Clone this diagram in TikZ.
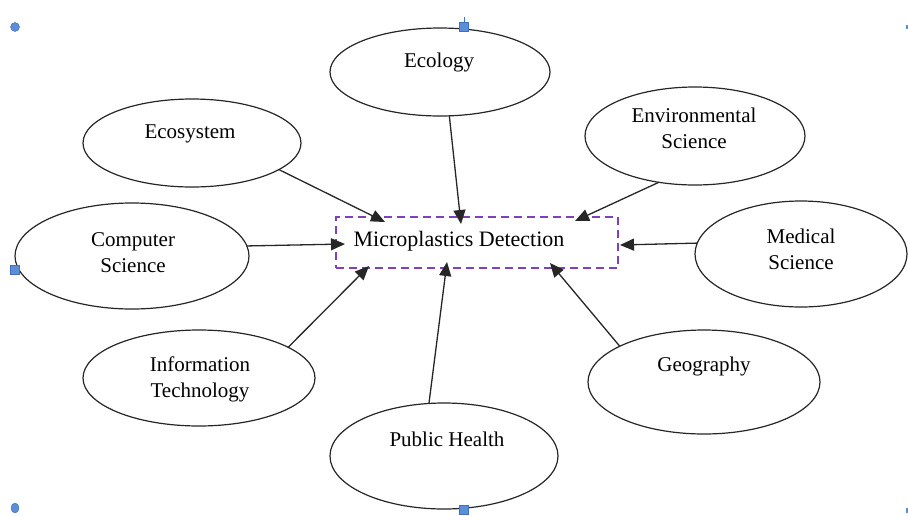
\documentclass[tikz,border=0pt]{standalone}
\usepackage{fontspec}
\setmainfont{Liberation Serif}
\usetikzlibrary{shapes.geometric,arrows.meta}
\definecolor{handle}{HTML}{5B8DD9}
\definecolor{handleb}{HTML}{3F6FBF}
\definecolor{boxpurple}{HTML}{7F3FBF}
\tikzset{
  oval/.style={draw=black!85, line width=1.2pt, ellipse, inner sep=0pt, outer sep=0pt},
  lbl/.style={align=center, font=\fontsize{21}{26}\selectfont, inner sep=0pt},
  conn/.style={draw=black!85, line width=1.3pt, -{Triangle[length=14pt,width=12pt]}},
  hsq/.style={fill=handle, draw=handleb, line width=0.4pt, minimum size=9pt, inner sep=0pt},
  hci/.style={fill=handle, draw=handleb, line width=0.4pt, circle, minimum size=9pt, inner sep=0pt}
}
\begin{document}
\begin{tikzpicture}[x=1pt,y=-1pt]
\useasboundingbox (0,0) rectangle (908,515);
\fill[white] (0,0) rectangle (908,515);

% central box
\node[draw=boxpurple, line width=1.5pt, dash pattern=on 8pt off 5pt, minimum width=282pt, minimum height=51pt, inner sep=0pt] (mpd) at (477,242.5) {};
\node[lbl, font=\fontsize{22}{26}\selectfont] (mpdt) at (459,241) {Microplastics Detection};

% ellipses
\node[oval, minimum width=220pt, minimum height=88pt] (eco) at (440,72) {};
\node[lbl] (ecot) at (439,62) {Ecology};
\node[oval, minimum width=218pt, minimum height=88pt] (esys) at (192,143) {};
\node[lbl] (esyst) at (190,134) {Ecosystem};
\node[oval, minimum width=220pt, minimum height=98pt] (env) at (695,136) {};
\node[lbl] (envt) at (694,128) {Environmental\\Science};
\node[oval, minimum width=234pt, minimum height=106pt] (cs) at (132,256) {};
\node[lbl] (cst) at (133,253) {Computer\\Science};
\node[oval, minimum width=212pt, minimum height=106pt] (med) at (801,254) {};
\node[lbl] (medt) at (801,249) {Medical\\Science};
\node[oval, minimum width=232pt, minimum height=96pt] (it) at (199,378) {};
\node[lbl] (itt) at (200,379) {Information\\Technology};
\node[oval, minimum width=228pt, minimum height=106pt] (ph) at (444,456) {};
\node[lbl] (pht) at (447,439) {Public Health};
\node[oval, minimum width=232pt, minimum height=104pt] (geo) at (704,382) {};
\node[lbl] (geot) at (704,366) {Geography};

% arrow end points on the box
\coordinate (eEsys) at (385,222);
\coordinate (eEco) at (461,224);
\coordinate (eEnv) at (575,221);
\coordinate (eCs) at (345,244);
\coordinate (eMed) at (620,245);
\coordinate (eIt) at (369,266);
\coordinate (ePh) at (447,262);
\coordinate (eGeo) at (550,263);

\draw[conn] (esys.-17.7) -- (eEsys);
\draw[conn] (eco.-78.7) -- (eEco);
\draw[conn] (env.-128.5) -- (eEnv);
\draw[conn] (cs.5.9) -- (eCs);
\draw[conn] (med.174.7) -- (eMed);
\draw[conn] (it.19.7) -- (eIt);
\draw[conn] (ph.106.8) -- (ePh);
\draw[conn] (geo.157.4) -- (eGeo);

% selection handles
\draw[handleb, line width=0.8pt] (464,17) -- (464,27);
\node[hci] (h1) at (15,27) {};
\node[hsq] (h2) at (464,27) {};
\node[hsq] (h3) at (15,270) {};
\node[hci, minimum width=8pt, minimum height=10pt, ellipse] (h4) at (15,508) {};
\node[hsq] (h5) at (464,510) {};
\fill[handle] (906,25) rectangle (908,29);
\fill[handle] (906,508) rectangle (908,513);
\end{tikzpicture}
\end{document}
